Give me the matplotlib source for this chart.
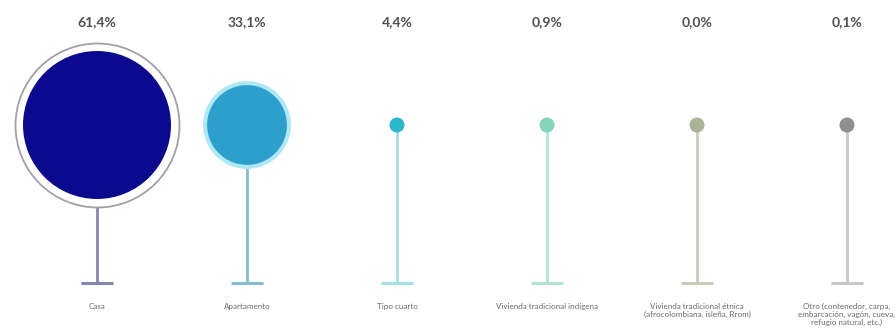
import numpy as np
import matplotlib.pyplot as plt

# datos: tipo de vivienda (%)
categorias = ['Casa', 'Apartamento', 'Tipo cuarto', 'Vivienda tradicional indígena',
              'Vivienda tradicional étnica\n(afrocolombiana, isleña, Rrom)',
              'Otro (contenedor, carpa,\nembarcación, vagón, cueva,\nrefugio natural, etc.)']
valores = [61.4, 33.1, 4.4, 0.9, 0.0, 0.1]
etiquetas = ['61,4%', '33,1%', '4,4%', '0,9%', '0,0%', '0,1%']

colores = ['#0b0a8f', '#2d9fcc', '#2cb6c9', '#86d3bd', '#aab396', '#8f8f8f']
colores_tallo = ['#8585ad', '#86bccb', '#a3dfe5', '#b3e2d6', '#c9cbbd', '#c6c6c6']
colores_anillo = ['#a0a0a8', '#aee8f4', None, None, None, None]

plt.rcParams['font.family'] = ['Lato', 'DejaVu Sans']
fig = plt.figure(figsize=(8.96, 3.33), dpi=100)
ax = fig.add_axes([0, 0, 1, 1])
ax.set_xlim(-97 / 150, (896 - 97) / 150)
ax.set_ylim(333, 0)
ax.axis('off')

x = np.arange(len(valores))
y_centro = 125
y_base = 283
px = 0.72  # puntos por pixel a 100 dpi

radios = np.maximum(np.array(valores) * 1.205, 7.5)

for i, v in enumerate(valores):
    r = radios[i]
    # tallo y base
    ax.vlines(x[i], y_centro, y_base, color=colores_tallo[i], lw=2, zorder=1)
    ax.hlines(y_base, x[i] - 0.107, x[i] + 0.107, color=colores_tallo[i], lw=2.2, zorder=1)
    # anillo exterior
    if colores_anillo[i] is not None:
        if i == 0:
            ax.scatter(x[i], y_centro, s=(2 * (r + 8) * px) ** 2, facecolor='white',
                       edgecolor=colores_anillo[i], linewidth=1.3, zorder=2)
        else:
            ax.scatter(x[i], y_centro, s=(2 * (r + 4) * px) ** 2, facecolor=colores_anillo[i],
                       edgecolor='none', zorder=2)
    ax.scatter(x[i], y_centro, s=(2 * r * px) ** 2, color=colores[i],
               edgecolor='none', zorder=3)
    # porcentaje
    ax.text(x[i], 22, etiquetas[i], ha='center', va='center', fontsize=10,
            fontweight='bold', color='#505050')
    # categoría
    ax.text(x[i], 303, categorias[i], ha='center', va='top', fontsize=5.8,
            color='#6a6a6a', linespacing=1.15)

fig.savefig('out.png', dpi=100, facecolor='white')
